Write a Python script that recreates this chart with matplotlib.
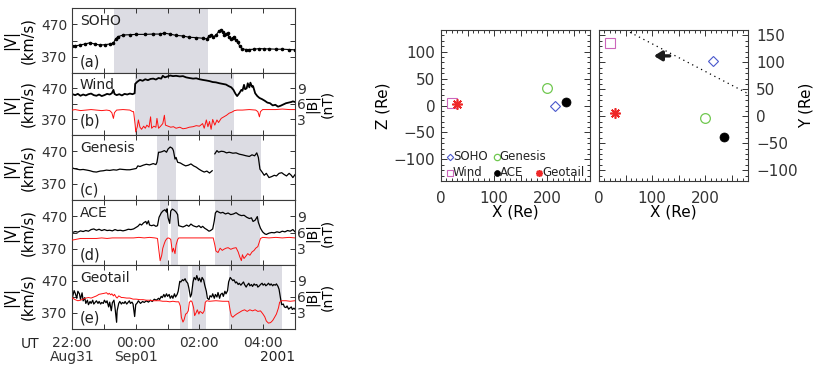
import numpy as np
import matplotlib
matplotlib.use('Agg')
import matplotlib.pyplot as plt
from matplotlib.ticker import MultipleLocator, FuncFormatter

plt.rcParams['font.family'] = 'DejaVu Sans'
plt.rcParams['font.size'] = 10
plt.rcParams['text.color'] = '#222222'
plt.rcParams['xtick.color'] = '#333333'
plt.rcParams['ytick.color'] = '#333333'

# ---- time series data (minutes after 22:00 UT, Aug 31 2001) ----
soho_t = [0, 6, 15, 24, 34, 43, 53, 62, 71, 78, 82, 87, 96, 109, 121, 137, 153, 165, 174, 184,
          196, 209, 221, 234, 246, 254, 258, 262, 266, 271, 276, 281, 284, 287, 290, 293, 296, 299, 303, 306,
          309, 312, 316, 321, 328, 334, 343, 353, 362, 371, 384, 396, 409, 420]
soho_v = [404, 403, 406, 409, 413, 409, 406, 407, 409, 412, 425, 432, 437, 438, 439, 439, 440, 440, 443, 440,
          436, 434, 430, 429, 427, 425, 434, 436, 432, 436, 448, 452, 446, 438, 440, 442, 431, 425, 429, 431,
          421, 415, 402, 394, 392, 392, 393, 395, 394, 394, 393, 393, 392, 391]

wind_t = [0, 1, 6, 11, 16, 21, 26, 31, 36, 41, 46, 51, 56, 61, 66, 71, 75, 78, 80, 84,
          89, 94, 99, 104, 109, 114, 118, 119, 123, 128, 133, 138, 143, 148, 153, 158, 163, 168, 171, 175,
          180, 185, 190, 196, 203, 209, 215, 221, 228, 234, 240, 246, 253, 259, 265, 271, 278, 284, 290, 295,
          300, 304, 308, 311, 315, 319, 321, 324, 326, 329, 331, 334, 336, 339, 341, 345, 349, 353, 358, 363,
          368, 373, 378, 383, 388, 393, 398, 403, 408, 413, 416, 420]
wind_v = [447, 451, 448, 452, 446, 450, 447, 451, 453, 448, 446, 450, 445, 448, 452, 450, 454, 465, 452, 448,
          451, 447, 452, 450, 453, 451, 454, 484, 491, 497, 494, 499, 496, 500, 501, 498, 503, 501, 510, 505,
          508, 511, 509, 510, 508, 509, 505, 503, 501, 502, 499, 497, 495, 493, 490, 489, 486, 484, 482, 477,
          473, 465, 452, 445, 454, 465, 462, 481, 467, 470, 486, 473, 488, 475, 477, 454, 445, 439, 435, 430,
          424, 422, 415, 417, 411, 414, 418, 422, 424, 426, 428, 426]
wind_bt = [0, 6, 16, 26, 36, 46, 56, 65, 71, 75, 78, 80, 84, 96, 109, 114, 116, 119, 120, 123,
           125, 128, 131, 135, 138, 141, 145, 148, 150, 154, 158, 160, 163, 166, 171, 174, 176, 181, 186, 191,
           196, 203, 209, 215, 221, 228, 234, 240, 246, 249, 253, 256, 259, 262, 265, 269, 273, 276, 281, 286,
           291, 296, 301, 306, 311, 321, 334, 346, 350, 353, 355, 359, 371, 384, 396, 409, 420]
wind_b = [4.8, 4.9, 4.7, 4.8, 4.9, 4.8, 4.7, 4.8, 4.7, 4.3, 3.2, 4.3, 4.8, 4.9, 4.8, 4.5, 4.5, 1.9, 0.6, 1.6,
          2.9, 1.5, 1.1, 1.7, 1.3, 1.9, 1.5, 3.5, 1.3, 1.7, 1.5, 3.2, 1.3, 1.6, 2.2, 3.8, 1.9, 1.7, 1.5, 1.6,
          1.3, 1.5, 1.2, 1.3, 1.5, 1.6, 1.8, 1.7, 2.2, 1.3, 2.9, 1.6, 2.6, 1.1, 3.0, 1.9, 2.9, 2.4, 3.2, 3.5,
          3.8, 4.2, 4.4, 4.7, 4.8, 4.8, 4.9, 4.8, 4.5, 3.5, 4.5, 4.9, 4.9, 4.9, 5.0, 4.9, 4.9]

genesis_t = [0, 3, 9, 15, 21, 28, 34, 40, 46, 53, 59, 65, 71, 78, 84, 90, 96, 103, 109, 115, 121,
             124, 128, 134, 140, 146, 153, 158, 160, 163, 166, 170, 174, 178, 181, 185, 189, 191, 194, 196, 199,
             204, 209, 214, 219, 224, 229, 234, 239, 244, 249, 254, 259, 264, 265, 269, 273, 276, 281, 286, 291,
             296, 303, 309, 315, 321, 328, 334, 339, 344, 348, 351, 354, 358, 362, 366, 371, 376, 381, 385, 390,
             395, 399, 404, 409, 413, 416, 420]
genesis_v = [420, 417, 415, 413, 414, 412, 410, 407, 406, 409, 410, 412, 411, 413, 412, 415, 414, 413, 413, 415, 417,
             425, 423, 427, 430, 428, 432, 429, 436, 467, 467, 469, 472, 467, 477, 483, 479, 472, 446, 451, 436,
             434, 429, 425, 427, 431, 425, 421, 415, 410, 406, 409, 403, 410, np.nan, 462, 472, 467, 470, 469, 465,
             467, 464, 465, 461, 459, 456, 454, 459, 456, 465, 451, 415, 406, 396, 402, 389, 392, 396, 394, 402,
             404, 399, 394, 402, 396, 389, 398]

ace_t = [0, 1, 6, 11, 16, 21, 26, 31, 36, 41, 46, 51, 56, 61, 66, 71, 76, 81, 86, 91,
         96, 101, 106, 111, 116, 120, 124, 128, 131, 135, 139, 141, 144, 146, 150, 154, 158, 161, 164, 168,
         171, 175, 178, 179, 181, 184, 186, 189, 193, 196, 199, 201, 205, 209, 213, 216, 220, 224, 228, 231,
         235, 239, 243, 246, 250, 254, 258, 261, 265, 268, 270, 273, 276, 280, 284, 289, 294, 299, 304, 309,
         314, 319, 324, 329, 334, 338, 341, 345, 349, 351, 355, 359, 363, 366, 371, 376, 381, 386, 391, 396,
         401, 406, 411, 416, 420]
ace_v = [424, 420, 423, 421, 425, 423, 426, 424, 429, 431, 427, 430, 426, 429, 426, 427, 425, 429, 426, 427,
         425, 427, 430, 429, 431, 435, 439, 446, 443, 450, 454, 446, 456, 443, 441, 443, 439, 441, 467, 480,
         486, 490, 483, 493, 465, 448, 486, 492, 488, 483, 475, 441, 439, 437, 440, 443, 439, 446, 441, 439,
         437, 441, 435, 439, 433, 429, 424, 426, 431, 456, 480, 486, 483, 480, 482, 477, 480, 475, 477, 481,
         475, 472, 473, 467, 463, 465, 454, 458, 469, 451, 433, 422, 416, 414, 418, 420, 419, 422, 420, 424,
         422, 426, 424, 429, 422]
ace_bt = [0, 6, 16, 26, 36, 46, 56, 66, 76, 86, 96, 106, 116, 126, 136, 146, 156, 161, 164, 166,
          169, 171, 174, 176, 179, 181, 184, 186, 189, 191, 194, 196, 199, 201, 209, 221, 234, 246, 259, 266,
          269, 271, 275, 279, 283, 286, 290, 294, 299, 304, 309, 313, 316, 319, 321, 324, 328, 331, 335, 339,
          343, 346, 350, 353, 355, 359, 371, 384, 396, 409, 420]
ace_b = [4.6, 4.7, 4.9, 4.9, 4.9, 4.9, 5.0, 4.9, 5.0, 5.0, 5.0, 5.0, 5.0, 5.1, 5.0, 5.1, 5.0, 4.9, 2.4, 0.8,
         1.8, 3.1, 4.0, 4.5, 4.9, 5.0, 4.9, 4.7, 2.4, 3.1, 2.1, 3.7, 4.7, 5.0, 5.0, 5.0, 5.0, 5.0, 5.0, 5.0,
         3.7, 2.6, 2.3, 3.1, 2.7, 2.9, 3.1, 3.2, 2.9, 3.1, 3.2, 2.4, 1.5, 0.8, 1.9, 1.2, 1.7, 2.1, 1.8, 2.4,
         2.7, 3.1, 3.4, 4.3, 4.9, 5.1, 5.0, 5.1, 5.0, 5.1, 5.0]

geotail_t = [0, 1, 4, 6, 9, 11, 14, 16, 19, 21, 24, 26, 29, 31, 34, 36, 39, 41, 44, 46,
             49, 51, 54, 56, 59, 61, 64, 66, 69, 71, 74, 76, 79, 81, 84, 85, 88, 90, 93, 95,
             98, 100, 103, 105, 108, 110, 113, 115, 118, 120, 123, 125, 129, 133, 136, 140, 144, 148, 151, 155,
             159, 163, 165, 168, 170, 173, 175, 178, 180, 183, 185, 188, 190, 193, 195, 198, 200, 203, 205, 208,
             210, 213, 215, 218, 220, 223, 225, 228, 230, 233, 235, 238, 240, 243, 245, 248, 250, 253, 255, 258,
             260, 263, 265, 268, 270, 273, 275, 278, 280, 283, 285, 288, 290, 293, 295, 298, 300, 303, 305, 308,
             310, 313, 315, 318, 320, 323, 325, 328, 330, 333, 335, 338, 340, 343, 345, 348, 350, 353, 355, 358,
             360, 363, 365, 368, 370, 373, 375, 378, 380, 383, 385, 388, 390, 393, 395, 398, 400, 403, 405, 408,
             410, 413, 415, 418, 420]
geotail_v = [428, 420, 440, 432, 416, 438, 430, 413, 433, 408, 418, 400, 410, 396, 406, 400, 410, 398, 404, 408,
             400, 406, 398, 403, 400, 410, 402, 408, 389, 404, 377, 402, 410, 387, 341, 377, 400, 406, 398, 403,
             400, 406, 398, 402, 408, 400, 404, 398, 359, 396, 402, 408, 400, 406, 403, 408, 404, 410, 406, 413,
             410, 416, 412, 422, 418, 428, 420, 430, 422, 428, 416, 424, 416, 430, 420, 428, 438, 469, 467, 474,
             471, 477, 469, 463, 449, 420, 428, 467, 481, 474, 487, 471, 479, 467, 481, 473, 457, 438, 416, 412,
             424, 420, 430, 416, 428, 420, 434, 416, 428, 432, 422, 438, 430, 440, 467, 481, 477, 471, 474, 464,
             467, 459, 463, 457, 461, 467, 459, 451, 457, 463, 455, 459, 453, 461, 457, 459, 451, 455, 459, 463,
             457, 461, 455, 459, 463, 457, 461, 455, 459, 457, 461, 453, 444, 413, 396, 398, 389, 387, 392, 382,
             385, 389, 381, 385, 382]
geotail_bt = [0, 1, 6, 11, 16, 21, 26, 31, 36, 41, 46, 51, 56, 61, 65, 68, 70, 73, 75, 78,
              80, 83, 85, 88, 90, 93, 96, 103, 109, 115, 121, 128, 134, 140, 146, 153, 159, 165, 171, 178,
              184, 190, 196, 201, 204, 206, 209, 211, 214, 216, 219, 221, 224, 226, 229, 231, 234, 236, 239, 241,
              244, 246, 249, 251, 254, 259, 271, 284, 295, 298, 300, 303, 306, 310, 315, 320, 325, 330, 335, 340,
              345, 350, 355, 359, 363, 366, 370, 374, 378, 381, 385, 389, 391, 394, 403, 411, 420]
geotail_b = [5.9, 5.8, 5.5, 5.3, 5.4, 5.6, 5.8, 5.9, 5.8, 6.0, 6.2, 6.5, 6.6, 6.7, 6.8, 6.5, 6.7, 6.4, 6.6, 6.2,
             6.5, 6.0, 5.8, 6.2, 6.1, 5.9, 5.9, 5.8, 5.8, 5.6, 5.6, 5.5, 5.5, 5.4, 5.4, 5.3, 5.3, 5.3, 5.2, 5.2,
             5.1, 5.2, 5.1, 5.1, 4.3, 2.2, 1.3, 1.7, 2.8, 2.9, 3.4, 5.0, 5.3, 5.1, 4.0, 2.5, 3.1, 3.6, 2.8, 3.3,
             3.1, 2.9, 3.4, 5.0, 5.3, 5.2, 5.3, 5.2, 5.2, 3.4, 2.5, 2.2, 2.5, 2.8, 3.1, 3.4, 3.6, 3.3, 3.6, 3.4,
             3.6, 3.3, 3.4, 2.9, 2.3, 1.5, 1.1, 1.2, 1.6, 2.1, 2.8, 4.0, 5.0, 5.3, 5.3, 5.2, 5.3]

# shaded intervals (start, end) in minutes after 22:00 UT
soho_shade = [(79, 256)]
wind_shade = [(118, 306)]
genesis_shade = [(160, 195), (268, 356)]
ace_shade = [(165, 181), (186, 200), (269, 355)]
geotail_shade = [(203, 219), (226, 253), (296, 396)]

time_ticks = [0, 60, 120, 180, 240, 300, 360, 420]
time_labels = ['22:00\nAug31', '', '00:00\nSep01', '', '02:00', '', '04:00', '']

# ---- spacecraft positions (GSE, Re) ----
sc_names = ['SOHO', 'Wind', 'Genesis', 'ACE', 'Geotail']
sc_x = [215, 20, 199, 234, 30]
sc_y = [102, 136, -4, -38, 6]
sc_z = [-1, 4, 33, 7, 2]
front_x = [50, 280]
front_y = [160, 42]
arrow_x = [138, 98]
arrow_y = [112, 112]

W, H = 826.0, 372.0


def box(x0, y0, x1, y1):
    return [x0 / W, 1 - y1 / H, (x1 - x0) / W, (y1 - y0) / H]


fig = plt.figure(figsize=(8.26, 3.72), dpi=100)
shade_col = '#dcdce3'
edge_col = '#3a3a3a'

panels = [
    ('SOHO', '(a)', soho_t, soho_v, None, None, soho_shade, 0.16),
    ('Wind', '(b)', wind_t, wind_v, wind_bt, wind_b, wind_shade, 0.22),
    ('Genesis', '(c)', genesis_t, genesis_v, None, None, genesis_shade, 0.15),
    ('ACE', '(d)', ace_t, ace_v, ace_bt, ace_b, ace_shade, 0.16),
    ('Geotail', '(e)', geotail_t, geotail_v, geotail_bt, geotail_b, geotail_shade, 0.17),
]
edges = [8.3, 72.7, 135, 200, 265, 329]

for i, (name, letter, t, v, bt, b, shade, ly) in enumerate(panels):
    ax = fig.add_axes(box(72, edges[i], 295, edges[i + 1]))
    for s0, s1 in shade:
        ax.axvspan(s0, s1, color=shade_col, lw=0, zorder=0)
    if name == 'SOHO':
        ax.plot(t, v, color='k', lw=0.8, marker='o', ms=1.6)
    elif name == 'Wind':
        ax.plot(t, v, color='k', lw=1.3)
    else:
        ax.plot(t, v, color='k', lw=0.9)
    ax.set_xlim(0, 420)
    ax.set_ylim(320, 520)
    ax.set_yticks([370, 420, 470])
    ax.set_yticklabels(['370', '', '470'])
    ax.set_xticks(time_ticks)
    for sp in ax.spines.values():
        sp.set_color(edge_col)
        sp.set_linewidth(0.8)
    ax.tick_params(direction='in', top=True, right=(b is None), length=3.5, width=0.7, labelsize=10)
    if i == len(panels) - 1:
        ax.set_xticklabels(time_labels, linespacing=1.0)
        ax.tick_params(axis='x', pad=5)
    else:
        ax.tick_params(labelbottom=False)
    ax.set_ylabel('|V|\n(km/s)', linespacing=1.05, fontsize=10.5)
    ax.yaxis.set_label_coords(-0.165, 0.5)
    ax.text(0.036, 0.80, name, transform=ax.transAxes, va='center', ha='left', fontsize=10)
    ax.text(0.036, ly, letter, transform=ax.transAxes, va='center', ha='left', fontsize=10.5)
    if b is not None:
        ax2 = ax.twinx()
        ax2.plot(bt, b, color='#ff1010', lw=0.7)
        ax2.set_ylim(0, 12)
        ax2.set_yticks([3, 6, 9])
        ax2.tick_params(direction='in', length=3.5, width=0.7, pad=1.5, labelsize=10)
        for sp in ax2.spines.values():
            sp.set_visible(False)
        ax2.set_ylabel('|B|\n(nT)', linespacing=1.05, fontsize=10)
        ax2.yaxis.set_label_coords(1.045, 0.5)

fig.text(30 / W, 1 - 344 / H, 'UT', ha='center', va='center', fontsize=10)
fig.text(295 / W, 1 - 357 / H, '2001', ha='right', va='center', fontsize=10)

# ---- scatter panels ----
sc_style = {
    'SOHO': dict(marker='D', ms=5, mfc='none', mec='#4a58cc', mew=0.8),
    'Wind': dict(marker='s', ms=6.5, mfc='none', mec='#cc66bb', mew=0.8),
    'Genesis': dict(marker='o', ms=7, mfc='none', mec='#70c850', mew=0.9),
    'ACE': dict(marker='o', ms=6.5, mfc='k', mec='k', mew=0.5),
    'Geotail': dict(marker=(8, 2, 0), ms=7.5, mfc='none', mec='#ee2828', mew=1.2),
}


def style_sc(ax):
    ax.set_xlim(0, 280)
    ax.xaxis.set_major_locator(MultipleLocator(50))
    ax.xaxis.set_minor_locator(MultipleLocator(10))
    ax.xaxis.set_major_formatter(FuncFormatter(lambda val, pos: '%d' % val if val % 100 == 0 else ''))
    ax.yaxis.set_major_locator(MultipleLocator(50))
    ax.yaxis.set_minor_locator(MultipleLocator(10))
    ax.yaxis.set_major_formatter(FuncFormatter(lambda val, pos: '%d' % val if val >= 0 else '\u2212%d' % -val))
    ax.tick_params(which='both', direction='in', top=True, right=True, width=0.7, labelsize=11)
    ax.tick_params(which='major', length=4)
    ax.tick_params(which='minor', length=2)
    ax.tick_params(axis='x', pad=7)
    for sp in ax.spines.values():
        sp.set_color(edge_col)
        sp.set_linewidth(0.8)
    ax.set_xlabel('X (Re)', fontsize=11)
    ax.xaxis.set_label_coords(0.5, -0.155)


axL = fig.add_axes(box(441, 30, 590, 181))
for n, x, z in zip(sc_names, sc_x, sc_z):
    axL.plot([x], [z], ls='none', **sc_style[n])
axL.set_ylim(-140, 140)
style_sc(axL)
axL.tick_params(axis='y', pad=4)
axL.set_ylabel('Z (Re)', fontsize=11)
axL.yaxis.set_label_coords(-0.34, 0.5)

# legend (two rows)
leg_pos = {'SOHO': (0.06, 0.16), 'Genesis': (0.375, 0.16),
           'Wind': (0.06, 0.055), 'ACE': (0.375, 0.055), 'Geotail': (0.66, 0.055)}
for n in sc_names:
    lx, ly = leg_pos[n]
    st = dict(sc_style[n])
    st['ms'] = st['ms'] * 0.65
    axL.plot([lx], [ly], ls='none', transform=axL.transAxes, clip_on=False, **st)
    axL.text(lx + 0.02, ly, n, transform=axL.transAxes, va='center', ha='left', fontsize=8.5)

axR = fig.add_axes(box(599, 30, 748, 181))
axR.plot(front_x, front_y, color='k', lw=0.9, ls=(0, (1, 3)))
axR.annotate('', xy=(arrow_x[1], arrow_y[1]), xytext=(arrow_x[0], arrow_y[0]),
             arrowprops=dict(arrowstyle='-|>,head_length=0.45,head_width=0.28', lw=2.4, color='#1a1a1a'))
for n, x, y in zip(sc_names, sc_x, sc_y):
    axR.plot([x], [y], ls='none', **sc_style[n])
axR.set_ylim(-120, 160)
style_sc(axR)
axR.tick_params(axis='y', labelleft=False, labelright=True, pad=6)
axR.yaxis.set_label_position('right')
axR.set_ylabel('Y (Re)', fontsize=11)
axR.yaxis.set_label_coords(1.336, 0.5)

fig.savefig('out.png', dpi=100)
